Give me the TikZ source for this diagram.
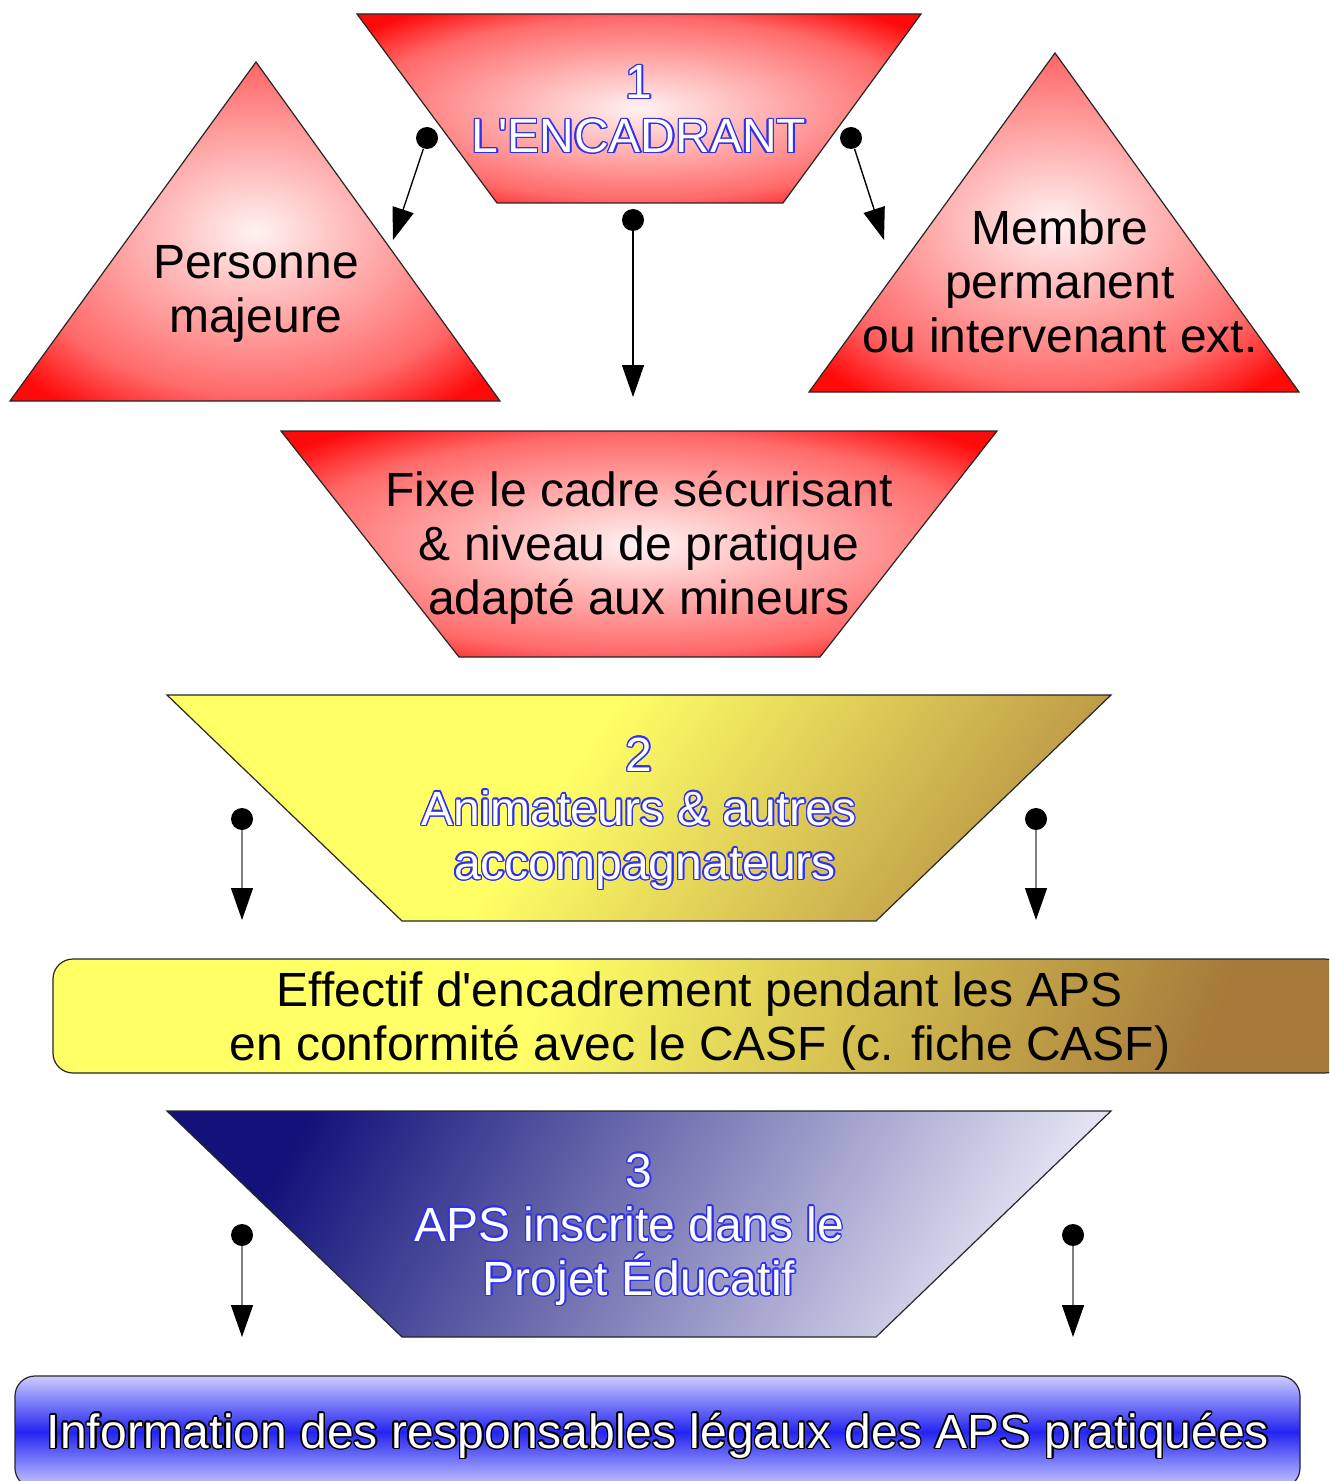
\documentclass[tikz,border=0pt]{standalone}
\usepackage{fontspec}
\newfontfamily\arialf{Liberation Sans}
\usepackage{contour}
\contourlength{0.7pt}
\usetikzlibrary{arrows.meta}
\definecolor{rcenter}{HTML}{FFF2F2}
\definecolor{rlight}{HTML}{FFC4C4}
\definecolor{rmid}{HTML}{FF6A6A}
\definecolor{rred}{HTML}{FF0A0A}
\definecolor{yel}{HTML}{FFFF66}
\definecolor{brn}{HTML}{A67A3A}
\definecolor{brnl}{HTML}{B89245}
\definecolor{navy}{HTML}{12127A}
\definecolor{lav}{HTML}{E2E2F2}
\definecolor{barlight}{HTML}{CCCCFF}
\definecolor{barblue}{HTML}{2424F2}
\definecolor{outblue}{HTML}{2F2FF0}
\pgfdeclareradialshading{redglow}{\pgfpoint{0bp}{0bp}}{color(0bp)=(rcenter); color(8bp)=(rlight); color(24bp)=(rmid); color(32bp)=(rred); color(50bp)=(rred)}
\pgfdeclareverticalshading{ybtrap}{100bp}{color(0bp)=(brnl); color(22bp)=(brnl); color(56bp)=(yel); color(100bp)=(yel)}
\pgfdeclareverticalshading{ybrect}{100bp}{color(0bp)=(brn); color(25bp)=(brn); color(58bp)=(yel); color(100bp)=(yel)}
\pgfdeclareverticalshading{barsh}{100bp}{color(0bp)=(barlight); color(25bp)=(barlight); color(50bp)=(barblue); color(75bp)=(barlight); color(100bp)=(barlight)}
\newcommand\ob[1]{\contour{outblue}{#1}}
\newcommand\okk[1]{\contour{black}{#1}}
\begin{document}
\begin{tikzpicture}[x=0.5pt,y=-0.5pt,
  shapeline/.style={draw=black!85,line width=0.6pt},
  redfill/.style={shading=redglow,shapeline},
  txt/.style={font=\arialf\fontsize{24}{27}\selectfont,align=center,inner sep=0pt},
  otxt/.style={txt,text=white},
  dot/.style={circle,fill=black,inner sep=0pt,minimum size=11pt},
  arr/.style={-{Triangle[length=16pt,width=11pt,color=black]},line width=0.7pt},
  garr/.style={arr,draw=black!50},
]
\useasboundingbox (0,0) rectangle (1329,1481);
\clip (0,0) rectangle (1329,1481);

% red shapes
\shade[redfill] (357,14) -- (921,14) -- (783,203) -- (497,203) -- cycle;
\shade[redfill] (256,62) -- (500,401) -- (10,401) -- cycle;
\shade[redfill] (1055,53) -- (1299,392) -- (809,392) -- cycle;
\shade[redfill] (281,431) -- (997,431) -- (820,657) -- (459,657) -- cycle;

% yellow shapes
\shade[shading=ybtrap,shading angle=55,shapeline]
  (167,695) -- (1111,695) -- (876,921) -- (402,921) -- cycle;
\shade[shading=ybrect,shading angle=70,shapeline,rounded corners=10pt]
  (53,959) rectangle (1345,1073);

% blue shapes
\shade[left color=navy,right color=lav,shading angle=60,shapeline]
  (167,1111) -- (1111,1111) -- (876,1337) -- (402,1337) -- cycle;
\shade[shading=barsh,shapeline,rounded corners=10pt]
  (15,1376) rectangle (1300,1488);

% texts
\node[otxt] (t1) at (639,110) {\ob{1}\\\ob{L'ENCADRANT}};
\node[txt] (tpm) at (256,294) {Personne\\majeure};
\node[txt] (tmb) at (1060,281) {Membre\\permanent\\ou intervenant ext.};
\node[txt] (tfx) at (639,548) {Fixe le cadre sécurisant\\\& niveau de pratique\\adapté aux mineurs};
\node[otxt] (t2) at (639,814) {\ob{2}\\\ob{Animateurs \& autres}\\\hspace*{6pt}\ob{accompagnateurs}};
\node[txt] (tef) at (700,1021) {Effectif d'encadrement pendant les APS\\en conformité avec le CASF (c. fiche CASF)};
\node[otxt] (t3) at (639,1230) {\ob{3}\\\mbox{\ob{APS inscrite dans le}\hspace{10pt}}\\\ob{Projet Éducatif}};
\node[otxt] (tin) at (658,1436) {\okk{Information des responsables légaux des APS pratiquées}};

% connectors
\node[dot] (d1) at (427,138) {};
\coordinate (e1) at (393,240);
\node[dot] (d2) at (851,138) {};
\coordinate (e2) at (884,240);
\node[dot] (d3) at (633,220) {};
\coordinate (e3) at (633,397);
\node[dot] (d4) at (242,819) {};
\coordinate (e4) at (242,920);
\node[dot] (d5) at (1036,819) {};
\coordinate (e5) at (1036,920);
\node[dot] (d6) at (242,1235) {};
\coordinate (e6) at (242,1337);
\node[dot] (d7) at (1073,1235) {};
\coordinate (e7) at (1073,1337);
\draw[arr] (d1) -- (e1);
\draw[arr] (d2) -- (e2);
\draw[arr] (d3) -- (e3);
\draw[garr] (d4) -- (e4);
\draw[garr] (d5) -- (e5);
\draw[garr] (d6) -- (e6);
\draw[garr] (d7) -- (e7);
\end{tikzpicture}
\end{document}
